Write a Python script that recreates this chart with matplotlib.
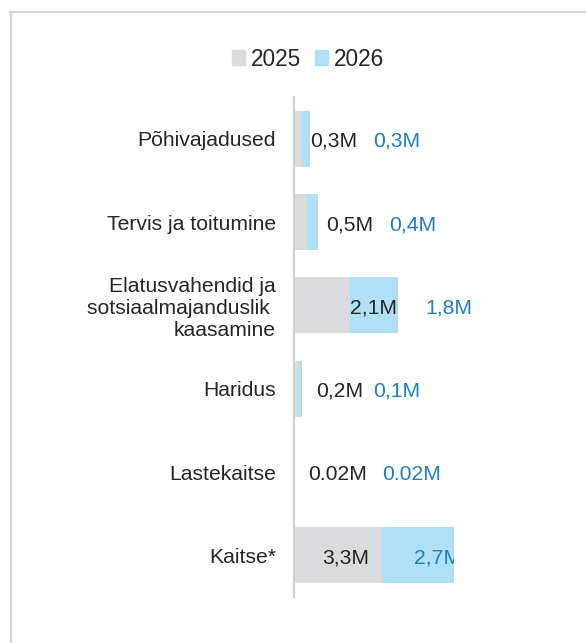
import matplotlib.pyplot as plt
from matplotlib.patches import Patch
from matplotlib.lines import Line2D
from matplotlib.transforms import Bbox, TransformedBbox

plt.rcParams['font.family'] = ['Liberation Sans', 'DejaVu Sans']

# Andmed
kategooriad = ["Põhivajadused", "Tervis ja toitumine",
               "Elatusvahendid ja\nsotsiaalmajanduslik \nkaasamine",
               "Haridus", "Lastekaitse", "Kaitse*"]
v2025 = [0.3, 0.5, 2.1, 0.2, 0.02, 3.3]
v2026 = [0.3, 0.4, 1.8, 0.1, 0.02, 2.7]
silt2025 = ["0,3M", "0,5M", "2,1M", "0,2M", "0.02M", "3,3M"]
silt2026 = ["0,3M", "0,4M", "1,8M", "0,1M", "0.02M", "2,7M"]
# siltide asukohad (M, vasak serv)
kohad2025 = [0.59, 1.19, 2.11, 0.81, 0.52, 1.04]
kohad2026 = [2.96, 3.56, 4.93, 2.96, 3.30, 4.48]

hall = "#dadbdc"
sinine = "#b0e0f8"
tekst = "#262626"
sinine_tekst = "#1f7fc4"
fs = 15.2

W, H = 586, 643
fig = plt.figure(figsize=(W / 100, H / 100), dpi=100)
ax = fig.add_axes([294 / W, 1 - 597 / H, (566 - 294) / W, 500 / H])

y = list(range(len(kategooriad)))
ax.barh(y, v2025, height=0.67, color=hall)
ax.barh(y, v2026, left=v2025, height=0.67, color=sinine)

for i in y:
    ax.text(kohad2025[i], i + 0.03, silt2025[i], ha="left", va="center",
            fontsize=fs, color=tekst)
    t = ax.text(kohad2026[i], i + 0.03, silt2026[i], ha="left", va="center",
                fontsize=fs, color=sinine_tekst)
    # viimane silt lõigatakse tulba otsas ära
    if i == len(kategooriad) - 1:
        lopp = v2025[i] + v2026[i]
        t.set_clip_on(True)
        t.set_clip_box(TransformedBbox(Bbox([[0, i - 0.5], [lopp, i + 0.5]]),
                                       ax.transData))

ax.set_xlim(0, 272 / 26.7)
ax.set_ylim(5.5, -0.5)
ax.set_yticks(y)
ax.set_yticklabels(kategooriad, fontsize=fs, color=tekst, linespacing=1.2)
ax.tick_params(axis="y", length=0, pad=13)
ax.set_xticks([])
for s in ["top", "right", "bottom"]:
    ax.spines[s].set_visible(False)
ax.spines["left"].set_color("#d0d0d0")
ax.spines["left"].set_linewidth(1.5)

# Legend
kasitsejad = [Patch(color=hall, label="2025"), Patch(color=sinine, label="2026")]
fig.legend(handles=kasitsejad, loc="center", bbox_to_anchor=(308 / W, 1 - 59 / H),
           ncol=2, frameon=False, fontsize=16.3, handlelength=0.58,
           handleheight=0.58, handletextpad=0.27, columnspacing=0.58,
           labelcolor=tekst)

# Raam
fig.add_artist(Line2D([10 / W, 1], [1 - 12 / H, 1 - 12 / H], color="#d4d4d4",
                      lw=1.6, transform=fig.transFigure))
fig.add_artist(Line2D([11 / W, 11 / W], [0, 1 - 12 / H], color="#d4d4d4",
                      lw=1.6, transform=fig.transFigure))

fig.savefig("out.png", dpi=100)
